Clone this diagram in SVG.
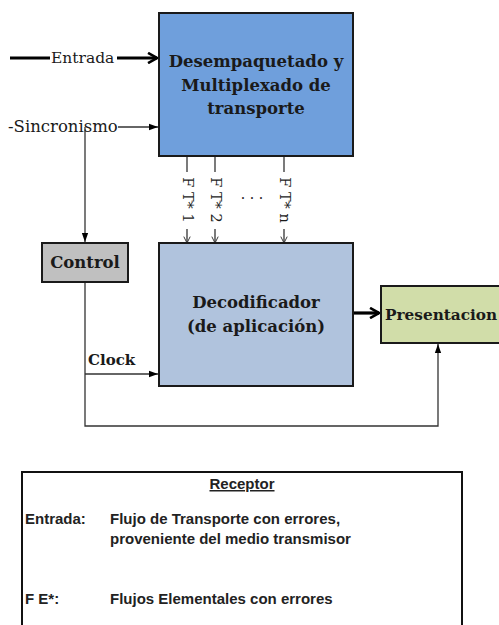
<svg xmlns="http://www.w3.org/2000/svg" width="499" height="625" viewBox="0 0 499 625">
<defs>
<style>
.box{stroke:#1a1a1a;stroke-width:2}
.serif{font-family:"DejaVu Serif","Liberation Serif",serif;fill:#1a1a1a}
.lbl{font-size:15.5px}
.big{font-size:16.5px;font-weight:bold;text-anchor:middle}
.ln{stroke:#333;stroke-width:1.3;fill:none}
.thick{stroke:#000;stroke-width:3.2;fill:none}
.leg{font-family:"Liberation Sans",Arial,sans-serif;font-size:15px;font-weight:bold;fill:#222}
</style>
<marker id="chev" viewBox="0 0 10 10" refX="9" refY="5" markerWidth="4" markerHeight="4" orient="auto" markerUnits="strokeWidth">
<path d="M2,1 L9,5 L2,9" fill="none" stroke="#000" stroke-width="2"/>
</marker>
<marker id="tri" viewBox="0 0 10 10" refX="10" refY="5" markerWidth="9" markerHeight="9" orient="auto" markerUnits="userSpaceOnUse">
<path d="M0,1.5 L10,5 L0,8.5 Z" fill="#000"/>
</marker>
<marker id="vee" viewBox="0 0 10 10" refX="9" refY="5" markerWidth="8" markerHeight="8" orient="auto" markerUnits="userSpaceOnUse">
<path d="M1,1 L9,5 L1,9" fill="none" stroke="#333" stroke-width="1.2"/>
</marker>
</defs>
<rect width="499" height="625" fill="#fff"/>

<g id="connectors">
<line class="thick" x1="10" y1="58" x2="50" y2="58"/>
<line class="thick" x1="117" y1="58" x2="157" y2="58" marker-end="url(#chev)"/>
<line class="ln" x1="118" y1="127" x2="158" y2="127" marker-end="url(#tri)"/>
<line class="ln" x1="85" y1="127" x2="85" y2="242" marker-end="url(#tri)"/>
<line class="ln" x1="187" y1="156" x2="187" y2="172"/>
<line class="ln" x1="187" y1="229" x2="187" y2="243" marker-end="url(#vee)"/>
<line class="ln" x1="215" y1="156" x2="215" y2="172"/>
<line class="ln" x1="215" y1="229" x2="215" y2="243" marker-end="url(#vee)"/>
<line class="ln" x1="284" y1="156" x2="284" y2="172"/>
<line class="ln" x1="284" y1="229" x2="284" y2="243" marker-end="url(#vee)"/>
<line class="thick" x1="354" y1="313" x2="379" y2="313" marker-end="url(#chev)"/>
<polyline class="ln" points="85,282 85,426 438,426 438,344" marker-end="url(#tri)"/>
<line class="ln" x1="85" y1="374" x2="158" y2="374" marker-end="url(#tri)"/>
<text class="serif lbl" x="51" y="63">Entrada</text>
<text class="serif" x="8" y="132" font-size="16.5">-Sincronismo</text>
<text class="serif" x="88" y="365" font-size="15" font-weight="bold">Clock</text>
<g class="serif" font-size="14.5" text-anchor="middle">
<text transform="translate(182.5,200) rotate(90)">F T* 1</text>
<text transform="translate(210.5,200) rotate(90)">F T* 2</text>
<text transform="translate(279.5,200) rotate(90)">F T* n</text>
</g>
<text class="serif" x="252" y="203" font-size="14" text-anchor="middle">· · ·</text>
</g>

<g id="demux">
<rect class="box" x="159" y="13" width="194" height="143" fill="#6f9fdc"/>
<text class="serif big" x="256" y="67">Desempaquetado  y</text>
<text class="serif big" x="256" y="91">Multiplexado de</text>
<text class="serif big" x="256" y="114">transporte</text>
</g>

<g id="control">
<rect class="box" x="42" y="243" width="86" height="39" fill="#c0c0c0"/>
<text class="serif big" x="85" y="268">Control</text>
</g>

<g id="decoder">
<rect class="box" x="159" y="243" width="194" height="143" fill="#b0c3dd"/>
<text class="serif big" x="256" y="308">Decodificador</text>
<text class="serif big" x="256" y="332">(de aplicación)</text>
</g>

<g id="presentacion">
<rect class="box" x="381" y="286" width="130" height="57" fill="#d1dda9"/>
<text class="serif" x="385" y="320" font-size="15.3" font-weight="bold">Presentacion</text>
</g>

<g id="legend">
<path d="M22,640 L22,472 L462,472 L462,640" fill="none" stroke="#111" stroke-width="2"/>
<text class="leg" x="242" y="489" text-anchor="middle" text-decoration="underline" font-size="15.5">Receptor</text>
<text class="leg" x="25" y="524">Entrada:</text>
<text class="leg" x="110" y="524">Flujo de Transporte con errores,</text>
<text class="leg" x="110" y="544">proveniente del medio transmisor</text>
<text class="leg" x="25" y="604">F E*:</text>
<text class="leg" x="110" y="604">Flujos Elementales con errores</text>
</g>
</svg>
